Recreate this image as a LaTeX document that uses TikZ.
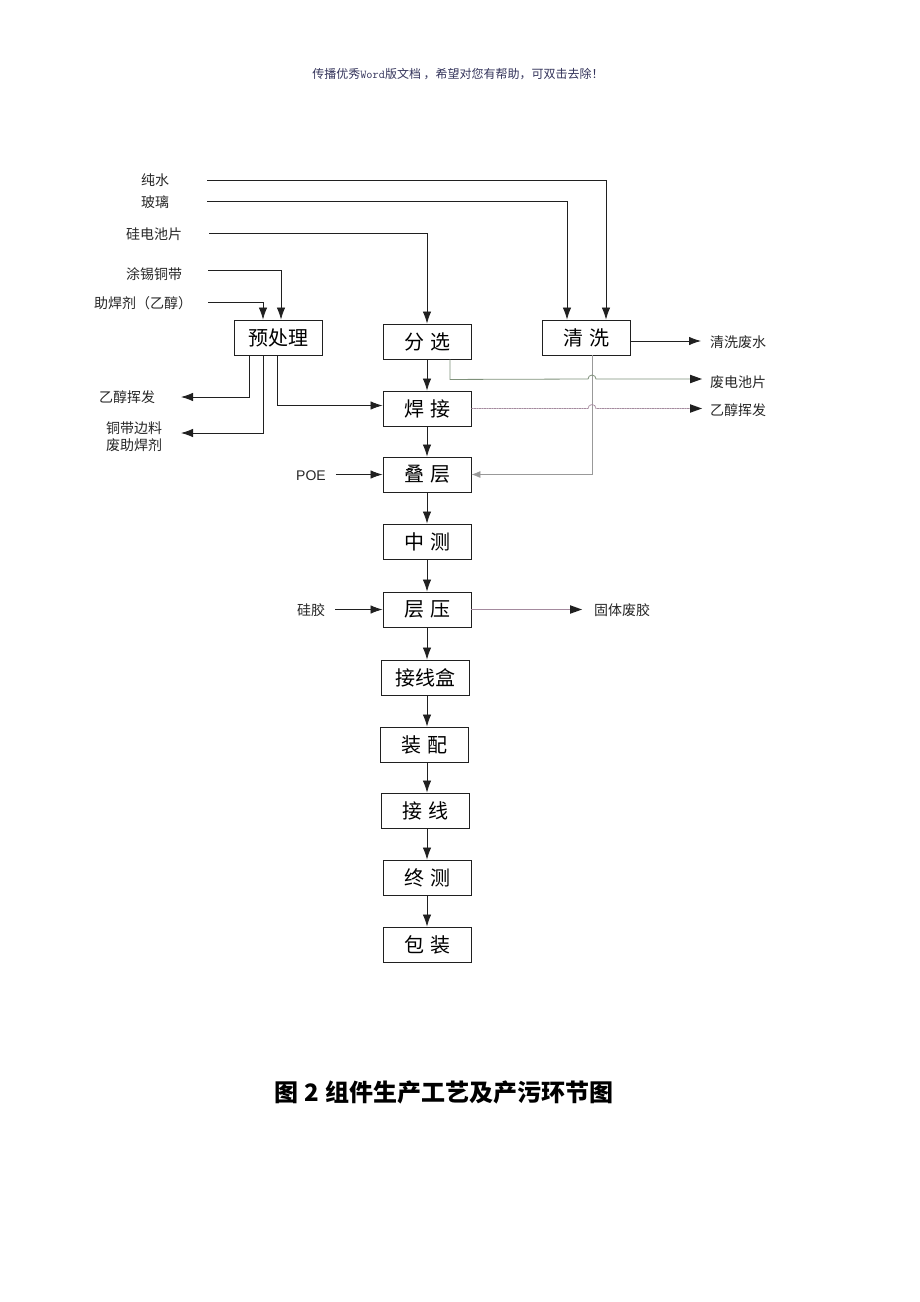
\documentclass[tikz,border=0pt]{standalone}
\usepackage{fontspec}
\setmainfont{Liberation Sans}
\newfontfamily\cjk{Noto Sans CJK SC}
\usetikzlibrary{arrows.meta}
\definecolor{hdr}{HTML}{33335A}
\definecolor{greenl}{HTML}{7E907A}
\definecolor{pinkl}{HTML}{A48A9E}
\definecolor{grayl}{HTML}{999999}
\definecolor{ink}{HTML}{202020}
\begin{document}
\begin{tikzpicture}[x=1pt,y=-1pt,
  box/.style={draw=ink,line width=0.9pt,minimum width=88pt,minimum height=35pt,inner sep=0pt,font=\cjk\fontsize{20}{22}\selectfont},
  lbl/.style={font=\cjk\fontsize{14}{17}\selectfont,inner sep=0pt,text=black!85,align=center},
  arr/.style={-{Latex[length=12pt,width=8.5pt]},line width=0.8pt,draw=ink},
  ln/.style={line width=0.8pt,draw=ink}]
\useasboundingbox (0,0) rectangle (920,1302);

% header
\node[font=\cjk\fontsize{12}{14}\selectfont,text=hdr,inner sep=0pt] (hd) at (458,74) {传播优秀\texttt{Word}版文档 ，希望对您有帮助，可双击去除！};

% boxes
\node[box] (pre) at (278,337.5) {预处理};
\node[box] (fx) at (427,341.5) {分\hspace{6pt}选};
\node[box] (qx) at (586.5,337.5) {清\hspace{6pt}洗};
\node[box] (hj) at (427,408.5) {焊\hspace{6pt}接};
\node[box] (dc) at (427,474.5) {叠\hspace{6pt}层};
\node[box] (zce) at (427,541.5) {中\hspace{6pt}测};
\node[box] (cy) at (427,609.5) {层\hspace{6pt}压};
\node[box] (jxh) at (425.5,677.5) {接线盒};
\node[box] (zp) at (424,744.5) {装\hspace{6pt}配};
\node[box] (jx) at (425.5,810.5) {接\hspace{6pt}线};
\node[box] (zc2) at (427,877.5) {终\hspace{6pt}测};
\node[box] (bz) at (427,944.5) {包\hspace{6pt}装};

% main column arrows
\draw[arr] (fx.south) -- (hj.north);
\draw[arr] (hj.south) -- (dc.north);
\draw[arr] (dc.south) -- (zce.north);
\draw[arr] (zce.south) -- (cy.north);
\draw[arr] (cy.south) -- (cy.south |- jxh.north);
\draw[arr] (cy.south |- jxh.south) -- (cy.south |- zp.north);
\draw[arr] (cy.south |- zp.south) -- (cy.south |- jx.north);
\draw[arr] (cy.south |- jx.south) -- (zc2.north);
\draw[arr] (zc2.south) -- (bz.north);

% input labels
\node[lbl] (cs) at (155,180) {纯水};
\node[lbl] (bl) at (155,202) {玻璃};
\node[lbl] (gd) at (154,234) {硅电池片};
\node[lbl] (tx) at (154,274) {涂锡铜带};
\node[lbl] (hjj) at (143,303) {助焊剂（乙醇）};
\coordinate (cs0) at (207,180);
\coordinate (bl0) at (207,201);
\coordinate (gd0) at (209,233);
\coordinate (tx0) at (208,270);
\coordinate (hjj0) at (208,302);
\draw[arr] (cs0) -| ([xshift=19.5pt]qx.north);
\draw[arr] (bl0) -| ([xshift=-19.5pt]qx.north);
\draw[arr] (gd0) -| (fx.north);
\draw[arr] (tx0) -| ([xshift=3pt]pre.north);
\draw[arr] (hjj0) -| ([xshift=-15pt]pre.north);

% left outputs of pretreatment
\node[lbl] (yc1) at (127,397) {乙醇挥发};
\node[lbl] (tdb) at (134,437) {铜带边料\\废助焊剂};
\coordinate (yc1t) at (181,397);
\coordinate (tdbt) at (181,433);
\draw[arr] ([xshift=-29pt]pre.south) |- (yc1t);
\draw[arr] ([xshift=-15pt]pre.south) |- (tdbt);
\draw[arr] ([xshift=-1pt]pre.south) |- ([yshift=3pt]hj.west);

% right outputs
\node[lbl] (qxfs) at (738,342) {清洗废水};
\node[lbl] (fdc) at (738,382) {废电池片};
\node[lbl] (yc2) at (738,410) {乙醇挥发};
\coordinate (qxt) at (701,341);
\draw[arr] (qxt -| qx.east) -- (qxt);

% cleaning vertical grey line to lamination
\draw[line width=0.8pt,draw=grayl,-{Latex[length=9pt,width=7pt]}] ([xshift=5.5pt]qx.south) |- (dc.east);

% waste cells line with hop
\draw[line width=0.8pt,draw=greenl] ([xshift=23pt]fx.south) -- ++(0,20) -- (588,379) arc[start angle=180,end angle=360,radius=4] -- (692,379);
\fill[ink] (702,379) -- (690,374.7) -- (690,383.3) -- cycle;
% welding ethanol line with hop
\draw[line width=0.8pt,draw=pinkl,dash pattern=on 2pt off 0.5pt] (hj.east) -- (588,408.5) arc[start angle=180,end angle=360,radius=4] -- (692,408.5);
\fill[ink] (702,408.5) -- (690,404.2) -- (690,412.8) -- cycle;

% POE and silicone
\node[lbl,font=\fontsize{14}{16}\selectfont] (poe) at (311,476) {POE};
\node[lbl] (gj) at (311,610) {硅胶};
\draw[arr] ([xshift=10pt]dc.west -| poe.east) -- (dc.west);
\draw[arr] ([xshift=10pt]cy.west -| gj.east) -- (cy.west);

% solid waste glue
\node[lbl] (gtf) at (622,610) {固体废胶};
\draw[line width=0.8pt,draw=pinkl] (cy.east) -- (572,609.5);
\fill[ink] (582,609.5) -- (570,605.2) -- (570,613.8) -- cycle;

% caption
\node[font=\cjk\bfseries\fontsize{24}{28}\selectfont,inner sep=0pt] (cap) at (444,1092) {图\hspace{6pt}2\hspace{6pt}组件生产工艺及产污环节图};
\end{tikzpicture}
\end{document}
